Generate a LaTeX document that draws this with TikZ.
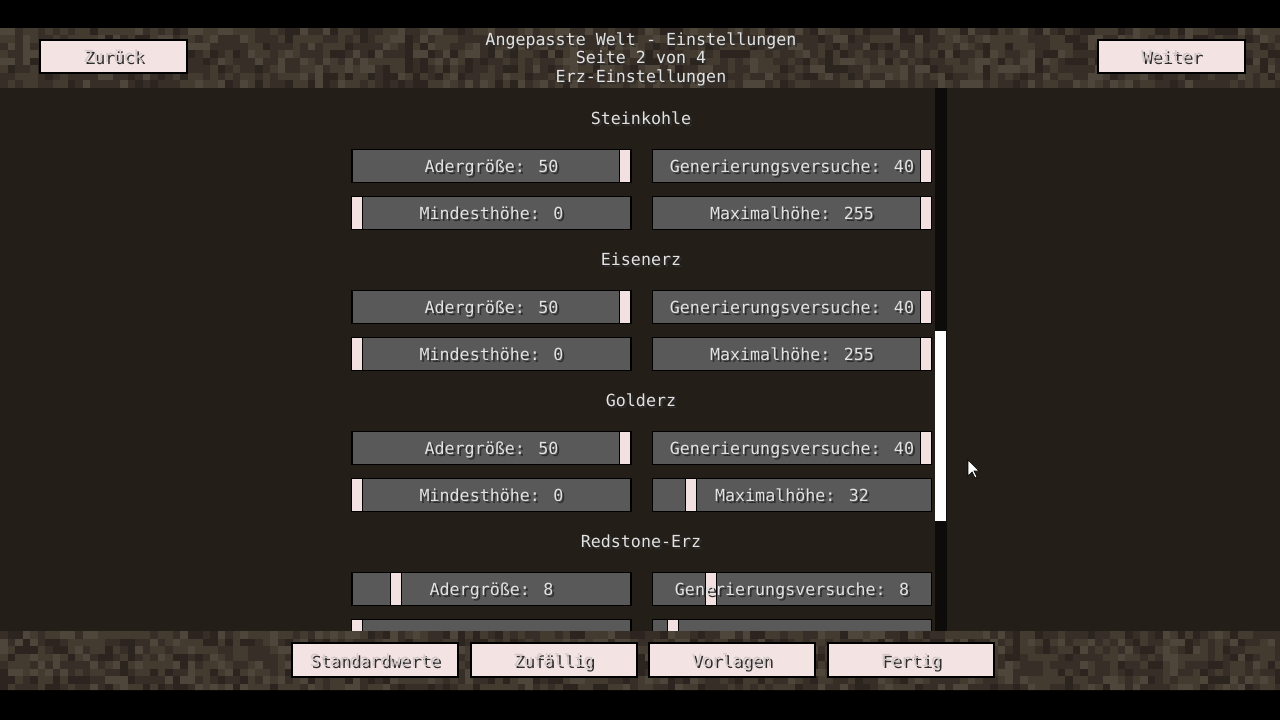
\documentclass[tikz,border=0pt]{standalone}
\usepackage{fontspec}
\newfontfamily\mcfont{DejaVu Sans Mono}
\usetikzlibrary{positioning}
\definecolor{mcfg}{HTML}{E2E2E2}
\definecolor{mcshadow}{HTML}{2E2E2E}
\definecolor{btntext}{HTML}{D2C8C8}
\definecolor{btnpink}{HTML}{F4E3E3}
\definecolor{slidergray}{HTML}{595959}
\definecolor{handlepink}{HTML}{F3E0E0}
\definecolor{midbg}{HTML}{231E18}
\definecolor{track}{HTML}{0E0C0A}
\definecolor{dirtA}{HTML}{372F27}
\definecolor{dirtB}{HTML}{433A30}
\definecolor{dirtC}{HTML}{2C251F}
\definecolor{dirtD}{HTML}{4F463B}
\newcommand\mc[2][mcfg]{\rlap{\hspace{1.5pt}\raisebox{-1.5pt}{\textcolor{mcshadow}{#2}}}\textcolor{#1}{#2}}
\pgfmathdeclarerandomlist{dirt}{{dirtA}{dirtB}{dirtC}{dirtD}{dirtA}{dirtB}}
\pgfmathsetseed{7}

\begin{document}
\begin{tikzpicture}[x=0.75pt, y=-0.75pt,
  every node/.style={font=\mcfont\fontsize{12.5}{14}\selectfont, inner sep=0pt, text height=9.1pt, text depth=0pt},
  slider/.style={draw=black, line width=1pt, fill=slidergray, minimum width=209.25pt, minimum height=24.75pt},
  handle/.style={draw=black, line width=0.6pt, fill=handlepink, minimum width=8.25pt, minimum height=24.75pt, anchor=west},
  topbtn/.style={draw=black, line width=1.5pt, fill=btnpink, minimum width=110.25pt, minimum height=24.75pt},
  botbtn/.style={topbtn, minimum width=124.5pt, minimum height=25.5pt}]
\useasboundingbox (0,0) rectangle (1280,720);
\fill[black] (0,0) rectangle (1280,720);
\fill[midbg] (0,88) rectangle (1280,631);

% sliders
\foreach \n/\x/\y/\t/\f in {
  kohleA/491.5/166/Adergröße: 50/1, kohleB/792/166/Generierungsversuche: 40/1,
  kohleC/491.5/213/Mindesthöhe: 0/0, kohleD/792/213/Maximalhöhe: 255/1,
  eisenA/491.5/307/Adergröße: 50/1, eisenB/792/307/Generierungsversuche: 40/1,
  eisenC/491.5/354/Mindesthöhe: 0/0, eisenD/792/354/Maximalhöhe: 255/1,
  goldA/491.5/448/Adergröße: 50/1, goldB/792/448/Generierungsversuche: 40/1,
  goldC/491.5/495/Mindesthöhe: 0/0, goldD/792/495/Maximalhöhe: 32/0.125,
  redA/491.5/589/Adergröße: 8/0.143, redB/792/589/Generierungsversuche: 8/0.2,
  redC/491.5/636//0, redD/792/636//0.056}{
  \node[slider] (\n) at (\x,\y) {};
  \node[handle] at ([xshift=\f*201pt]\n.west) {};
  \node at (\n) {\mc{\t}};
}

% headings
\foreach \h/\y in {Steinkohle/118, Eisenerz/259, Golderz/400, Redstone-Erz/541}
  \node at (641,\y) {\mc{\h}};

% scrollbar
\fill[track] (935,88) rectangle (947,631);
\fill[white] (935,331) rectangle (946,521);

% dirt strips
\begin{scope}
\clip (0,28) rectangle (1280,88) (0,631) rectangle (1280,690);
\foreach \i in {0,...,170}
  \foreach \j in {0,...,7}{
    \pgfmathrandomitem{\c}{dirt}
    \fill[\c] (\i*7.5,28+\j*7.5) rectangle +(7.5,7.5);
    \pgfmathrandomitem{\c}{dirt}
    \fill[\c] (\i*7.5,631+\j*7.5) rectangle +(7.5,7.5);
  }
\end{scope}

% titles
\node (title) at (641,39) {\mc{Angepasste Welt - Einstellungen}};
\node (page) at (641,57) {\mc{Seite 2 von 4}};
\node (sub) at (641,76) {\mc{Erz-Einstellungen}};

% buttons
\node[topbtn] (back) at (113.5,56.5) {\mc[btntext]{Zurück}};
\node[topbtn] (next) at (1171.5,56.5) {\mc[btntext]{Weiter}};
\node[botbtn] (defaults) at (375,660) {\mc[btntext]{Standardwerte}};
\node[botbtn] (random) at (553.5,660) {\mc[btntext]{Zufällig}};
\node[botbtn] (presets) at (732,660) {\mc[btntext]{Vorlagen}};
\node[botbtn] (done) at (911,660) {\mc[btntext]{Fertig}};

% cursor
\draw[fill=white, line width=0.5pt] (968,460) -- (968,476) -- (972,472) -- (975,478) -- (977,477) -- (974,471) -- (979,471) -- cycle;
\end{tikzpicture}
\end{document}
